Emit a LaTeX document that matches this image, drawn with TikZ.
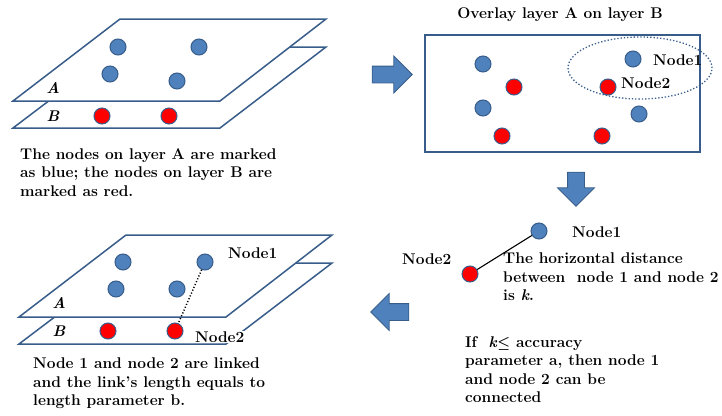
\documentclass[tikz,border=0pt]{standalone}
\usepackage{fontspec}
\usepackage{amsmath}
\usetikzlibrary{shapes.arrows}
\definecolor{dotblue}{HTML}{4F81BD}
\definecolor{edgeblue}{HTML}{385D8A}
\definecolor{dotred}{HTML}{FF0000}
\tikzset{
  layer/.style={draw=edgeblue, line width=1.5pt, fill=white},
  bdot/.style={circle, draw=edgeblue, line width=1pt, fill=dotblue, minimum size=16pt, inner sep=0pt},
  rdot/.style={bdot, fill=dotred},
  txt/.style={font=\fontsize{15.5}{18.5}\selectfont\bfseries\boldmath, align=left, inner sep=0pt, anchor=north west},
  lbl/.style={font=\fontsize{15.5}{18}\selectfont\bfseries, inner sep=0pt, anchor=west},
  lay/.style={font=\fontsize{15.5}{18}\selectfont\bfseries\itshape, inner sep=0pt},
  bigarrow/.style={single arrow, draw=edgeblue, fill=dotblue, line width=0.8pt, inner sep=8pt,
                   single arrow head extend=10pt, minimum height=#1},
  link/.style={line width=1.1pt, black}
}
\begin{document}
\begin{tikzpicture}[x=1pt, y=-1pt]
\useasboundingbox (0,0) rectangle (722,415);
% the two stacked layers (top left, bottom left)
\foreach \ox/\oy in {0/0, 6/216} {
  \begin{scope}[shift={(\ox,\oy)}]
    \draw[layer] (13,128) -- (220,128) -- (326,47) -- (120,47) -- cycle;
    \draw[layer] (13,101) -- (220,101) -- (326,19) -- (120,19) -- cycle;
  \end{scope}
}
% layers, top left
\node[lay] (la1) at (53,88) {A};
\node[lay] (lb1) at (53,116) {B};
\node[bdot] (a11) at (118,47) {};
\node[bdot] (a12) at (199,47) {};
\node[bdot] (a13) at (110,74) {};
\node[bdot] (a14) at (177,81) {};
\node[rdot] (b11) at (102,116) {};
\node[rdot] (b12) at (169,116) {};
\node[txt] (cap1) at (20,148) {The nodes on layer A are marked\\ as blue; the nodes on layer B are\\ marked as red.};
% overlay, top right
\node[font=\fontsize{15.5}{18}\selectfont\bfseries, inner sep=0pt] (title) at (560,15) {Overlay layer A on layer B};
\draw[layer] (425,35) rectangle (700,152);
\node[bdot] (o1) at (483,64) {};
\node[bdot] (o2) at (483,108) {};
\node[bdot] (o3) at (633,59) {};
\node[bdot] (o4) at (639,114) {};
\node[rdot] (o5) at (514,87) {};
\node[rdot] (o6) at (502,136) {};
\node[rdot] (o7) at (608,87) {};
\node[rdot] (o8) at (602,136) {};
\draw[edgeblue, dotted, line width=1.3pt] (640,68) ellipse [x radius=72pt, y radius=31pt];
\node[lbl] (on1) at (653,60) {Node1};
\node[lbl] (on2) at (621,83) {Node2};
% distance, middle right
\node[bdot] (d1) at (539,231) {};
\node[rdot] (d2) at (470,274) {};
\draw[link] (d1) -- (d2);
\node[lbl] (dn1) at (572,232) {Node1};
\node[lbl] (dn2) at (402,259) {Node2};
\node[txt] (dist) at (503,253) {The horizontal distance\\ between\ \ node 1 and node 2\\ is \textit{k}.};
\node[txt] (cond) at (465,336) {If \ \textit{k}$\leq$ accuracy\\ parameter a, then node 1\\ and node 2 can be\\ connected};
% linked, bottom left
\node[lay] (la2) at (59,303) {A};
\node[lay] (lb2) at (59,331) {B};
\node[bdot] (a21) at (123,262) {};
\node[bdot] (a22) at (205,262) {};
\node[bdot] (a23) at (116,289) {};
\node[bdot] (a24) at (177,289) {};
\node[rdot] (b21) at (108,331) {};
\node[rdot] (b22) at (175,331) {};
\draw[link, dotted, line width=1.5pt] (a22) -- (b22);
\node[lbl] (ln1) at (228,253) {Node1};
\node[lbl, fill=white, inner sep=1pt] (ln2) at (194,337) {Node2};
\node[txt] (cap2) at (33,358) {Node 1 and node 2 are linked\\ and the link's length equals to\\ length parameter b.};
% block arrows
\node[bigarrow=40pt] (ar1) at (388,74.5) {};
\node[bigarrow=34pt, shape border rotate=270] (ar2) at (576,185) {};
\node[bigarrow=38pt, shape border rotate=180] (ar3) at (394,312) {};
\end{tikzpicture}
\end{document}
